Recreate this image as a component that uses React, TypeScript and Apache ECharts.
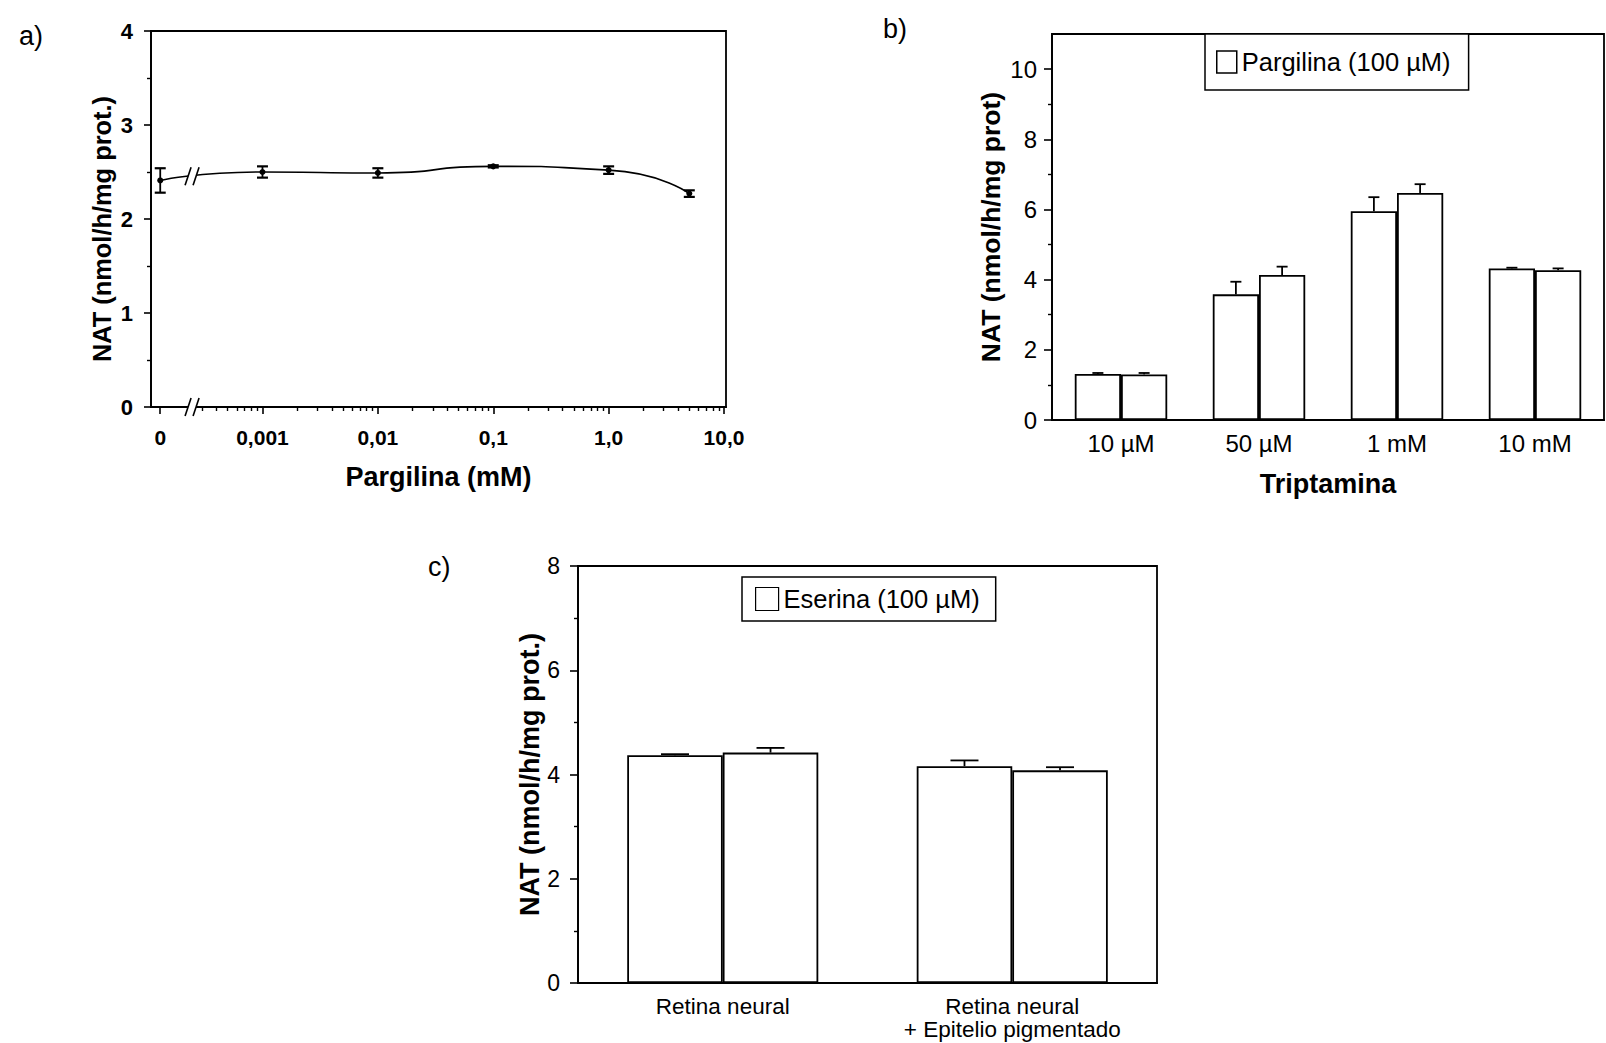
import React, { useEffect, useRef } from "react";
import * as echarts from "echarts";

const FONT = "Liberation Sans, Arial, Helvetica, sans-serif";

// ---------- Panel a: NAT vs Pargilina (mM) ----------
const pargilinaConc = [0, 0.001, 0.01, 0.1, 1.0, 5.0];
const natPargilina = [2.41, 2.5, 2.49, 2.56, 2.52, 2.27];
const natPargilinaErr = [0.13, 0.06, 0.05, 0.012, 0.04, 0.035];
const pargilinaTickConc = [0, 0.001, 0.01, 0.1, 1, 10];
const pargilinaTickLabels = ["0", "0,001", "0,01", "0,1", "1,0", "10,0"];
const pargilinaMinorConc = [
  0.0003, 0.0004, 0.0005, 0.0006, 0.0007, 0.0008, 0.0009,
  0.002, 0.003, 0.004, 0.005, 0.006, 0.007, 0.008, 0.009,
  0.02, 0.03, 0.04, 0.05, 0.06, 0.07, 0.08, 0.09,
  0.2, 0.3, 0.4, 0.5, 0.6, 0.7, 0.8, 0.9,
  2, 3, 4, 5, 6, 7, 8, 9,
];
// broken axis: the "0" concentration sits left of the log scale
const ZERO_POS = -3.886;
const BREAK_POS = -3.61;
const BREAK_Y = [0, 2.455];
const X_MIN_A = -3.966;
const X_MAX_A = 1.017;

// ---------- Panel b: Triptamina ----------
const triptaminaCategories = ["10 \u00b5M", "50 \u00b5M", "1 mM", "10 mM"];
const natTripControl = [1.31, 3.58, 5.95, 4.32];
const natTripControlErr = [0.03, 0.36, 0.4, 0.02];
const natTripPargilina = [1.3, 4.13, 6.47, 4.27];
const natTripPargilinaErr = [0.04, 0.24, 0.25, 0.05];
const yTicksB = [0, 2, 4, 6, 8, 10];
const yMinorB = [1, 3, 5, 7, 9];

// ---------- Panel c: Eserina ----------
const retinaCategories = ["Retina neural", "Retina neural\n+ Epitelio pigmentado"];
const natRetControl = [4.37, 4.16];
const natRetControlErr = [0.02, 0.11];
const natRetEserina = [4.42, 4.08];
const natRetEserinaErr = [0.09, 0.06];

const LEG_B = "Pargilina (100 \u00b5M)";
const LEG_C = "Eserina (100 \u00b5M)";

const toX = (c: number) => (c === 0 ? ZERO_POS : Math.log10(c));

const BAR_GAP_B = 0.33;
const BAR_GAP_C = 0.34;

const black = "#000";
const axisLine = { show: true, onZero: false, lineStyle: { color: black, width: 1.8 } };
const noLine = { show: false, onZero: false };

function errBarUp(gapFrac: number, capHalf: number) {
  return (params: any, api: any) => {
    const cat = api.value(0);
    const v = api.value(1);
    const e = api.value(2);
    const which = api.value(3);
    const base = api.coord([cat, v]);
    const top = api.coord([cat, v + e]);
    const band = api.size([1, 0])[0];
    const barW = (band * (1 - gapFrac)) / 2;
    const cx = base[0] + (which === 0 ? -barW / 2 : barW / 2);
    const st = { stroke: black, lineWidth: 1.8 };
    return {
      type: "group",
      children: [
        { type: "line", shape: { x1: cx, y1: base[1], x2: cx, y2: top[1] }, style: st },
        { type: "line", shape: { x1: cx - capHalf, y1: top[1], x2: cx + capHalf, y2: top[1] }, style: st },
      ],
    };
  };
}

function buildOption() {
  const aLine = pargilinaConc.map((c, i) => [toX(c), natPargilina[i]]);
  const aErr = pargilinaConc.map((c, i) => [toX(c), natPargilina[i], natPargilinaErr[i]]);
  const aTickPos = pargilinaTickConc.map(toX);
  const aMinorPos = pargilinaMinorConc.map(toX);
  const aLabel = (v: number) => {
    for (let i = 0; i < aTickPos.length; i++) {
      if (Math.abs(v - aTickPos[i]) < 1e-6) return pargilinaTickLabels[i];
    }
    return "";
  };

  const bErrData: number[][] = [];
  triptaminaCategories.forEach((_, i) => {
    bErrData.push([i, natTripControl[i], natTripControlErr[i], 0]);
    bErrData.push([i, natTripPargilina[i], natTripPargilinaErr[i], 1]);
  });
  const cErrData: number[][] = [];
  retinaCategories.forEach((_, i) => {
    cErrData.push([i, natRetControl[i], natRetControlErr[i], 0]);
    cErrData.push([i, natRetEserina[i], natRetEserinaErr[i], 1]);
  });

  const gridBox = { show: true, borderColor: black, borderWidth: 1.8, backgroundColor: "transparent" };
  const barStyle = { color: "#fff", borderColor: black, borderWidth: 1.8 };

  return {
    animation: false,
    backgroundColor: "#fff",
    textStyle: { fontFamily: FONT, color: black },
    graphic: [
      { type: "text", left: 19, top: 22, style: { text: "a)", fontSize: 27, fontFamily: FONT, fill: black } },
      { type: "text", left: 883, top: 15, style: { text: "b)", fontSize: 27, fontFamily: FONT, fill: black } },
      { type: "text", left: 428, top: 553, style: { text: "c)", fontSize: 27, fontFamily: FONT, fill: black } },
    ],
    grid: [
      { left: 151, top: 31, width: 575, height: 376, ...gridBox },
      { left: 1052, top: 34, width: 552, height: 386, ...gridBox },
      { left: 578, top: 566, width: 579, height: 417, ...gridBox },
    ],
    legend: [
      {
        data: [LEG_B],
        left: 1205,
        top: 34,
        orient: "horizontal",
        icon: "rect",
        itemWidth: 20,
        itemHeight: 22,
        padding: [15, 18, 15, 11],
        borderColor: black,
        borderWidth: 1.5,
        backgroundColor: "#fff",
        itemStyle: { color: "#fff", borderColor: black, borderWidth: 1.5 },
        textStyle: { fontSize: 25.5, fontFamily: FONT, color: black },
        selectedMode: false,
      },
      {
        data: [LEG_C],
        left: 742,
        top: 577,
        orient: "horizontal",
        icon: "rect",
        itemWidth: 23,
        itemHeight: 23,
        padding: [9, 16, 9, 13],
        borderColor: black,
        borderWidth: 1.5,
        backgroundColor: "#fff",
        itemStyle: { color: "#fff", borderColor: black, borderWidth: 1.2 },
        textStyle: { fontSize: 25.5, fontFamily: FONT, color: black },
        selectedMode: false,
      },
    ],
    xAxis: [
      {
        gridIndex: 0,
        type: "value",
        min: X_MIN_A,
        max: X_MAX_A,
        position: "bottom",
        axisLine,
        splitLine: { show: false },
        axisTick: { show: true, customValues: aTickPos, length: 7, lineStyle: { color: black, width: 1.6 } },
        axisLabel: {
          customValues: aTickPos,
          formatter: aLabel,
          fontSize: 21,
          fontWeight: "bold",
          fontFamily: FONT,
          color: black,
          margin: 20,
        },
        name: "Pargilina (mM)",
        nameLocation: "middle",
        nameGap: 56,
        nameTextStyle: { fontSize: 27, fontWeight: "bold", fontFamily: FONT, color: black },
      },
      {
        gridIndex: 0,
        type: "value",
        min: X_MIN_A,
        max: X_MAX_A,
        position: "bottom",
        axisLine: noLine,
        splitLine: { show: false },
        axisLabel: { show: false },
        axisTick: { show: true, customValues: aMinorPos, length: 4, lineStyle: { color: black, width: 1.4 } },
      },
      {
        gridIndex: 1,
        type: "category",
        data: triptaminaCategories,
        axisLine,
        axisTick: { show: false },
        axisLabel: { fontSize: 24, fontFamily: FONT, color: black, margin: 11 },
        name: "Triptamina",
        nameLocation: "middle",
        nameGap: 50,
        nameTextStyle: { fontSize: 27, fontWeight: "bold", fontFamily: FONT, color: black },
      },
      {
        gridIndex: 2,
        type: "category",
        data: retinaCategories,
        axisLine,
        axisTick: { show: false },
        axisLabel: { fontSize: 22.5, fontFamily: FONT, color: black, margin: 12, lineHeight: 23 },
      },
    ],
    yAxis: [
      {
        gridIndex: 0,
        type: "value",
        min: 0,
        max: 4,
        interval: 1,
        position: "left",
        axisLine,
        splitLine: { show: false },
        axisTick: { show: true, length: 7, lineStyle: { color: black, width: 1.6 } },
        minorTick: { show: true, splitNumber: 2, length: 4, lineStyle: { color: black, width: 1.4 } },
        axisLabel: { fontSize: 22, fontWeight: "bold", fontFamily: FONT, color: black, margin: 18 },
        name: "NAT (nmol/h/mg prot.)",
        nameLocation: "middle",
        nameGap: 37,
        nameTextStyle: { fontSize: 25.4, fontWeight: "bold", fontFamily: FONT, color: black, padding: [0, 20, 0, 0] },
      },
      {
        gridIndex: 1,
        type: "value",
        min: 0,
        max: 11,
        position: "left",
        axisLine,
        splitLine: { show: false },
        axisTick: { show: true, customValues: yTicksB, length: 8, lineStyle: { color: black, width: 1.6 } },
        axisLabel: { customValues: yTicksB, fontSize: 24, fontFamily: FONT, color: black, margin: 15 },
        name: "NAT (nmol/h/mg prot)",
        nameLocation: "middle",
        nameGap: 48,
        nameTextStyle: { fontSize: 26.5, fontWeight: "bold", fontFamily: FONT, color: black },
      },
      {
        gridIndex: 1,
        type: "value",
        min: 0,
        max: 11,
        position: "left",
        axisLine: noLine,
        splitLine: { show: false },
        axisLabel: { show: false },
        axisTick: { show: true, customValues: yMinorB, length: 4, lineStyle: { color: black, width: 1.4 } },
      },
      {
        gridIndex: 2,
        type: "value",
        min: 0,
        max: 8,
        interval: 2,
        position: "left",
        axisLine,
        splitLine: { show: false },
        axisTick: { show: true, length: 8, lineStyle: { color: black, width: 1.6 } },
        minorTick: { show: true, splitNumber: 2, length: 4, lineStyle: { color: black, width: 1.4 } },
        axisLabel: { fontSize: 23, fontFamily: FONT, color: black, margin: 18 },
        name: "NAT (nmol/h/mg prot.)",
        nameLocation: "middle",
        nameGap: 35,
        nameTextStyle: { fontSize: 27, fontWeight: "bold", fontFamily: FONT, color: black },
      },
    ],
    series: [
      // ---- panel a ----
      {
        type: "line",
        name: "NAT Pargilina",
        xAxisIndex: 0,
        yAxisIndex: 0,
        data: aLine,
        smooth: 0.65,
        symbol: "circle",
        symbolSize: 6,
        itemStyle: { color: black },
        lineStyle: { color: black, width: 1.6 },
        z: 3,
      },
      {
        type: "custom",
        name: "err a",
        xAxisIndex: 0,
        yAxisIndex: 0,
        data: aErr,
        clip: false,
        z: 4,
        renderItem: (params: any, api: any) => {
          const x = api.value(0);
          const y = api.value(1);
          const e = api.value(2);
          const p1 = api.coord([x, y + e]);
          const p2 = api.coord([x, y - e]);
          const h = 5.5;
          const st = { stroke: black, lineWidth: 1.8 };
          const cap = { stroke: black, lineWidth: 2.2 };
          return {
            type: "group",
            children: [
              { type: "line", shape: { x1: p1[0], y1: p1[1], x2: p2[0], y2: p2[1] }, style: st },
              { type: "line", shape: { x1: p1[0] - h, y1: p1[1], x2: p1[0] + h, y2: p1[1] }, style: cap },
              { type: "line", shape: { x1: p2[0] - h, y1: p2[1], x2: p2[0] + h, y2: p2[1] }, style: cap },
            ],
          };
        },
      },
      {
        type: "custom",
        name: "break a",
        xAxisIndex: 0,
        yAxisIndex: 0,
        data: BREAK_Y.map((y) => [BREAK_POS, y]),
        clip: false,
        z: 5,
        renderItem: (params: any, api: any) => {
          const p = api.coord([api.value(0), api.value(1)]);
          const st = { stroke: black, lineWidth: 1.6 };
          return {
            type: "group",
            children: [
              { type: "polygon", shape: { points: [[p[0] - 7, p[1] + 9], [p[0] - 1, p[1] - 9], [p[0] + 7, p[1] - 9], [p[0] + 1, p[1] + 9]] }, style: { fill: "#fff" } },
              { type: "line", shape: { x1: p[0] - 7, y1: p[1] + 9, x2: p[0] - 1, y2: p[1] - 9 }, style: st },
              { type: "line", shape: { x1: p[0] + 1, y1: p[1] + 9, x2: p[0] + 7, y2: p[1] - 9 }, style: st },
            ],
          };
        },
      },
      // ---- panel b ----
      {
        type: "bar",
        name: "Control b",
        xAxisIndex: 2,
        yAxisIndex: 1,
        data: natTripControl,
        barGap: "0%",
        barCategoryGap: BAR_GAP_B * 100 + "%",
        itemStyle: barStyle,
      },
      {
        type: "bar",
        name: LEG_B,
        xAxisIndex: 2,
        yAxisIndex: 1,
        data: natTripPargilina,
        barGap: "0%",
        barCategoryGap: BAR_GAP_B * 100 + "%",
        itemStyle: barStyle,
      },
      {
        type: "custom",
        name: "err b",
        xAxisIndex: 2,
        yAxisIndex: 1,
        data: bErrData,
        z: 4,
        renderItem: errBarUp(BAR_GAP_B, 5.5),
      },
      // ---- panel c ----
      {
        type: "bar",
        name: "Control c",
        xAxisIndex: 3,
        yAxisIndex: 3,
        data: natRetControl,
        barGap: "0%",
        barCategoryGap: BAR_GAP_C * 100 + "%",
        itemStyle: barStyle,
      },
      {
        type: "bar",
        name: LEG_C,
        xAxisIndex: 3,
        yAxisIndex: 3,
        data: natRetEserina,
        barGap: "0%",
        barCategoryGap: BAR_GAP_C * 100 + "%",
        itemStyle: barStyle,
      },
      {
        type: "custom",
        name: "err c",
        xAxisIndex: 3,
        yAxisIndex: 3,
        data: cErrData,
        z: 4,
        renderItem: errBarUp(BAR_GAP_C, 14),
      },
    ],
  };
}

export default function App() {
  const ref = useRef<HTMLDivElement>(null);
  useEffect(() => {
    if (!ref.current) return;
    const chart = echarts.init(ref.current, null, { renderer: "svg" });
    chart.setOption(buildOption() as any);
    return () => chart.dispose();
  }, []);
  return (
    <div
      ref={ref}
      style={{ position: "absolute", left: 0, top: 0, width: 1606, height: 1043, background: "#fff" }}
    />
  );
}
